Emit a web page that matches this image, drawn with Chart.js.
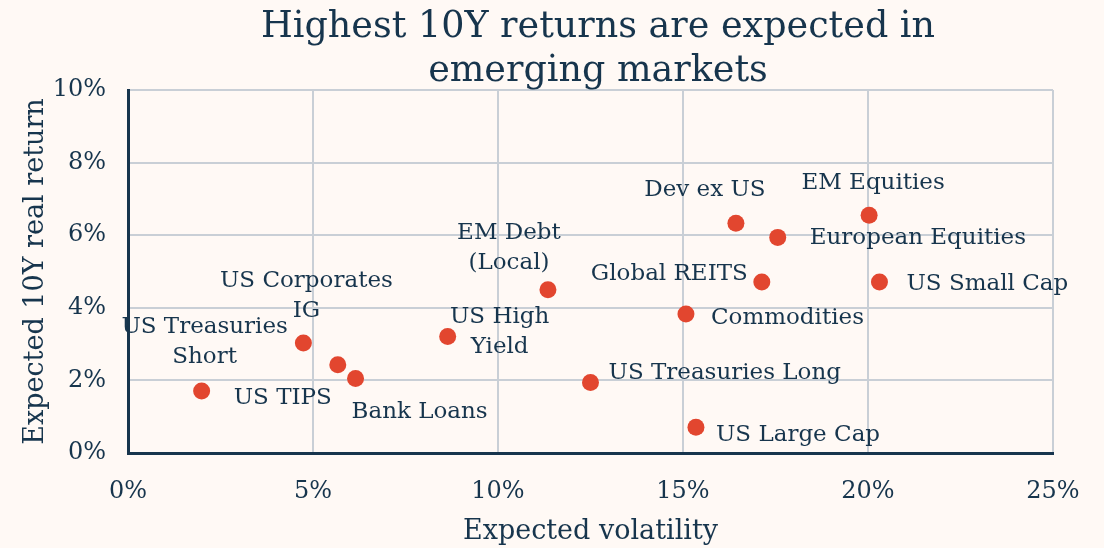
<!DOCTYPE html>
<html>
<head>
<meta charset="utf-8">
<script src="https://cdn.jsdelivr.net/npm/chart.js@4"></script>
<style>
  html, body { margin: 0; padding: 0; background: #FFF9F5; }
  canvas { display: block; }
</style>
</head>
<body>
<canvas id="riskReturnChart" width="1104" height="548"></canvas>
<script>
// Data (values in %)
const assetNames = [
    'US Treasuries Short', 'US Corporates IG', 'US TIPS', 'Bank Loans',
    'US High Yield', 'EM Debt (Local)', 'US Treasuries Long', 'Commodities',
    'US Large Cap', 'Dev ex US', 'Global REITS', 'European Equities',
    'EM Equities', 'US Small Cap'
];
const expectedVolatility = [1.99, 4.74, 5.67, 6.15, 8.64, 11.35, 12.5, 15.08, 15.35, 16.43, 17.13, 17.56, 20.03, 20.31];
const expectedReturn = [1.71, 3.03, 2.43, 2.05, 3.21, 4.5, 1.94, 3.83, 0.71, 6.33, 4.71, 5.94, 6.55, 4.71];

const xTicks = [0, 5, 10, 15, 20, 25];
const yTicks = [0, 2, 4, 6, 8, 10];

const chartTitle = ['Highest 10Y returns are expected in', 'emerging markets'];
const xTitle = 'Expected volatility';
const yTitle = 'Expected 10Y real return';

// Where each point label sits relative to its dot (pixels)
const labelLayout = {
    'US Treasuries Short': { lines: ['US Treasuries', 'Short'], dx: 3, dy: -64, align: 'center' },
    'US Corporates IG': { lines: ['US Corporates', 'IG'], dx: 3, dy: -62, align: 'center' },
    'US TIPS': { lines: ['US TIPS'], dx: -6, dy: 33, align: 'right' },
    'Bank Loans': { lines: ['Bank Loans'], dx: -4, dy: 33, align: 'left' },
    'US High Yield': { lines: ['US High', 'Yield'], dx: 52, dy: -19, align: 'center' },
    'EM Debt (Local)': { lines: ['EM Debt', '(Local)'], dx: -39, dy: -57, align: 'center' },
    'US Treasuries Long': { lines: ['US Treasuries Long'], dx: 18, dy: -10, align: 'left' },
    'Commodities': { lines: ['Commodities'], dx: 25, dy: 4, align: 'left' },
    'US Large Cap': { lines: ['US Large Cap'], dx: 20, dy: 8, align: 'left' },
    'Dev ex US': { lines: ['Dev ex US'], dx: -31, dy: -33, align: 'center' },
    'Global REITS': { lines: ['Global REITS'], dx: -14, dy: -8, align: 'right' },
    'European Equities': { lines: ['European Equities'], dx: 32, dy: 1, align: 'left' },
    'EM Equities': { lines: ['EM Equities'], dx: 4, dy: -32, align: 'center' },
    'US Small Cap': { lines: ['US Small Cap'], dx: 27, dy: 2, align: 'left' }
};

const TEXT_COLOR = '#17354D';
const DOT_COLOR = '#E2462F';
const GRID_COLOR = '#C9CFD6';
const SERIF = '"DejaVu Serif", "Liberation Serif", serif';

/**
 * Draws the two-line title above the plot
 */
const titlePlugin = {
    id: 'twoLineTitle',
    afterDraw(chart) {
        const ctx = chart.ctx;
        ctx.save();
        ctx.fillStyle = TEXT_COLOR;
        ctx.font = `36.5px ${SERIF}`;
        ctx.textAlign = 'center';
        ctx.textBaseline = 'middle';
        chartTitle.forEach((line, i) => {
            ctx.fillText(line, 598, 28 + i * 44);
        });
        ctx.restore();
    }
};

/**
 * Writes the asset name next to each dot
 */
const pointLabelPlugin = {
    id: 'pointLabels',
    afterDatasetsDraw(chart) {
        const ctx = chart.ctx;
        const meta = chart.getDatasetMeta(0);
        ctx.save();
        ctx.fillStyle = TEXT_COLOR;
        ctx.font = `23px ${SERIF}`;
        ctx.textBaseline = 'middle';
        meta.data.forEach((pt, i) => {
            const layout = labelLayout[assetNames[i]];
            if (!layout) return;
            ctx.textAlign = layout.align;
            layout.lines.forEach((line, j) => {
                ctx.fillText(line, pt.x + layout.dx, pt.y + layout.dy + j * 30);
            });
        });
        ctx.restore();
    }
};

const points = expectedVolatility.map((v, i) => ({ x: v, y: expectedReturn[i] }));

const ctx = document.getElementById('riskReturnChart').getContext('2d');
new Chart(ctx, {
    type: 'scatter',
    data: {
        datasets: [{
            label: 'Assets',
            data: points,
            backgroundColor: DOT_COLOR,
            borderWidth: 0,
            pointRadius: 8.5,
            pointHoverRadius: 8.5
        }]
    },
    options: {
        responsive: false,
        animation: false,
        layout: {
            padding: { top: 90, right: 51, bottom: 0, left: 0 }
        },
        plugins: {
            legend: { display: false },
            tooltip: { enabled: false }
        },
        scales: {
            x: {
                type: 'linear',
                min: 0,
                max: 25,
                afterBuildTicks: (scale) => { scale.ticks = xTicks.map(v => ({ value: v })); },
                afterFit: (scale) => { scale.height = 95; },
                grid: { color: GRID_COLOR, lineWidth: 2, drawTicks: false },
                border: { color: TEXT_COLOR, width: 3 },
                ticks: {
                    color: TEXT_COLOR,
                    font: { family: SERIF, size: 24 },
                    padding: 24,
                    callback: (v) => v + '%'
                },
                title: {
                    display: true,
                    text: xTitle,
                    color: TEXT_COLOR,
                    font: { family: SERIF, size: 27 },
                    padding: { top: 0, bottom: 0 }
                }
            },
            y: {
                type: 'linear',
                min: 0,
                max: 10,
                afterBuildTicks: (scale) => { scale.ticks = yTicks.map(v => ({ value: v })); },
                afterFit: (scale) => { scale.width = 128; },
                grid: { color: GRID_COLOR, lineWidth: 2, drawTicks: false },
                border: { color: TEXT_COLOR, width: 3 },
                ticks: {
                    color: TEXT_COLOR,
                    font: { family: SERIF, size: 24 },
                    padding: 22,
                    callback: (v) => v + '%'
                },
                title: {
                    display: true,
                    text: yTitle,
                    color: TEXT_COLOR,
                    font: { family: SERIF, size: 27 },
                    padding: { top: 20, bottom: 0 }
                }
            }
        }
    },
    plugins: [titlePlugin, pointLabelPlugin]
});
</script>
</body>
</html>
